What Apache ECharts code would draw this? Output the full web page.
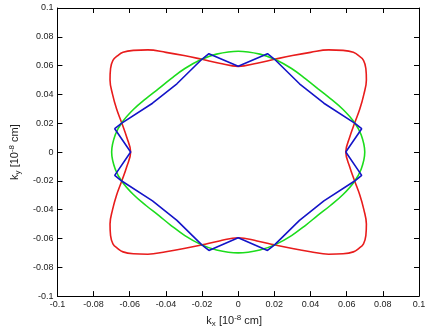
<!DOCTYPE html>
<html>
<head>
<meta charset="utf-8">
<script src="https://cdn.jsdelivr.net/npm/echarts@6/dist/echarts.min.js"></script>
<style>
  html, body { margin: 0; padding: 0; background: #fff; }
  #chart { width: 432px; height: 333px; }
</style>
</head>
<body>
<div id="chart"></div>
<script>
// First-quadrant samples of each contour, ordered from the +kx axis to the +ky axis.
// The full closed curves are obtained by mirroring into the other quadrants.
const redQuadrant = [
  [0.0595, 0], [0.0617, 0.0104], [0.0644, 0.0201], [0.0673, 0.0300],
  [0.0695, 0.0400], [0.0709, 0.0500], [0.0706, 0.0580], [0.0693, 0.0637],
  [0.0668, 0.0668],
  [0.0637, 0.0693], [0.0580, 0.0706], [0.0500, 0.0709], [0.0400, 0.0692],
  [0.0300, 0.0670], [0.0201, 0.0644], [0.0104, 0.0617], [0, 0.0595]
];
const greenQuadrant = [
  [0.0700, 0], [0.0680, 0.0120], [0.0641, 0.0208], [0.0580, 0.0295],
  [0.0510, 0.0371], [0.0440, 0.0440],
  [0.0371, 0.0510], [0.0295, 0.0580], [0.0208, 0.0641], [0.0120, 0.0680], [0, 0.0700]
];
const blueQuadrant = [
  [0.0595, 0], [0.0683, 0.0162], [0.0644, 0.0201], [0.0474, 0.0339],
  [0.0339, 0.0474], [0.0201, 0.0644], [0.0162, 0.0683], [0, 0.0595]
];
const tickValues = [-0.1, -0.08, -0.06, -0.04, -0.02, 0, 0.02, 0.04, 0.06, 0.08, 0.1];

// Mirror a quadrant into a closed loop; optionally start the loop at a given index
// of the first quadrant so smoothing does not kink at an axis tip.
function closedLoop(q, startIdx) {
  const q1 = q.slice();
  const q2 = q.slice().reverse().map(p => [-p[0], p[1]]).slice(1);
  const q3 = q.map(p => [-p[0], -p[1]]).slice(1);
  const q4 = q.slice().reverse().map(p => [p[0], -p[1]]).slice(1);
  let loop = q1.concat(q2, q3, q4);
  loop.pop(); // last equals first
  const s = startIdx || 0;
  loop = loop.slice(s).concat(loop.slice(0, s));
  loop.push(loop[0]);
  return loop;
}

const chart = echarts.init(document.getElementById('chart'), null, { renderer: 'canvas' });

const labelFont = { fontFamily: 'Liberation Sans, Arial, sans-serif', fontSize: 9, color: '#222' };
const axisLineStyle = { show: true, onZero: false, lineStyle: { color: '#000', width: 1 } };
const tickStyle = { show: true, inside: true, length: 5, lineStyle: { color: '#000', width: 1 } };
const fmt = v => {
  const r = Math.round(v * 100) / 100;
  return tickValues.includes(r) ? String(r) : '';
};

const nameRich = {
  k: { fontFamily: 'Liberation Sans, Arial, sans-serif', fontSize: 11, color: '#222', lineHeight: 14 },
  sub: { fontFamily: 'Liberation Sans, Arial, sans-serif', fontSize: 8, color: '#222', verticalAlign: 'bottom', lineHeight: 14, padding: [5, 0, 0, 0] },
  sup: { fontFamily: 'Liberation Sans, Arial, sans-serif', fontSize: 8, color: '#222', verticalAlign: 'top', lineHeight: 14, padding: [0, 0, 5, 0] }
};

chart.setOption({
  animation: false,
  backgroundColor: '#fff',
  grid: { left: 47, right: 13, top: 8, bottom: 32, containLabel: false },
  xAxis: [
    {
      type: 'value', min: -0.1, max: 0.1, interval: 0.02, position: 'bottom',
      axisLine: axisLineStyle, axisTick: tickStyle, splitLine: { show: false },
      axisLabel: Object.assign({ margin: 4, formatter: fmt }, labelFont),
      name: '{k|k}{sub|x}{k| [10}{sup|-8}{k| cm]}',
      nameLocation: 'middle', nameGap: 9,
      nameTextStyle: { rich: nameRich, padding: [0, 8, 0, 0] }
    },
    {
      type: 'value', min: -0.1, max: 0.1, interval: 0.02, position: 'top',
      axisLine: axisLineStyle, axisTick: tickStyle, splitLine: { show: false },
      axisLabel: { show: false }
    }
  ],
  yAxis: [
    {
      type: 'value', min: -0.1, max: 0.1, interval: 0.02, position: 'left',
      axisLine: axisLineStyle, axisTick: tickStyle, splitLine: { show: false },
      axisLabel: Object.assign({ margin: 4, formatter: fmt }, labelFont),
      name: '{k|k}{sub|y}{k| [10}{sup|-8}{k| cm]}',
      nameLocation: 'middle', nameGap: 32,
      nameTextStyle: { rich: nameRich }
    },
    {
      type: 'value', min: -0.1, max: 0.1, interval: 0.02, position: 'right',
      axisLine: axisLineStyle, axisTick: tickStyle, splitLine: { show: false },
      axisLabel: { show: false }
    }
  ],
  series: [
    {
      type: 'line', data: closedLoop(redQuadrant, 8), smooth: 0.4, symbol: 'none',
      lineStyle: { color: '#e81c1c', width: 1.6 }, silent: true
    },
    {
      type: 'line', data: closedLoop(greenQuadrant, 5), smooth: 0.4, symbol: 'none',
      lineStyle: { color: '#1cdc1c', width: 1.6 }, silent: true
    },
    {
      type: 'line', data: closedLoop(blueQuadrant, 0), smooth: false, symbol: 'none',
      lineStyle: { color: '#1414c8', width: 1.6 }, silent: true
    }
  ]
});
</script>
</body>
</html>
